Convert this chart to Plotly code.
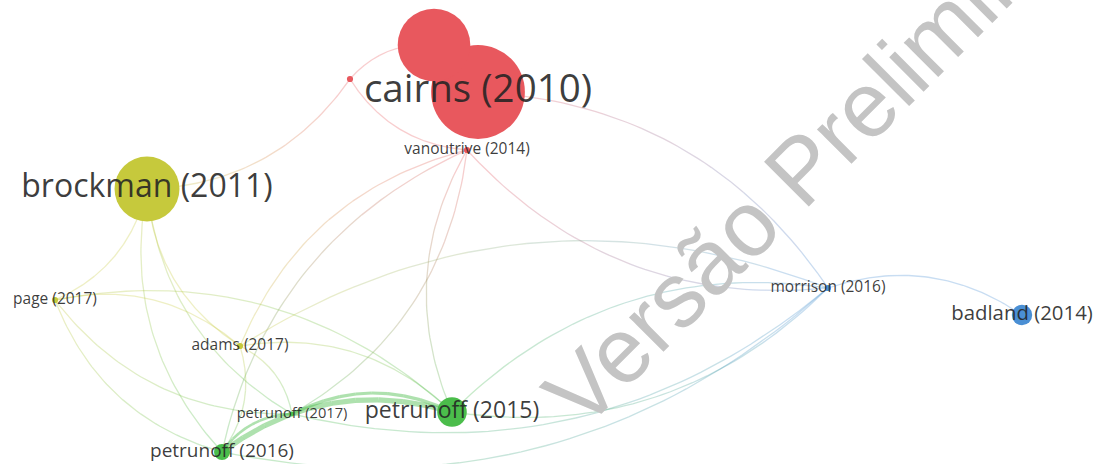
import numpy as np
import plotly.graph_objects as go

# ---------------- data ----------------
labels = ["cairns (2010)", "", "", "vanoutrive (2014)", "brockman (2011)",
          "page (2017)", "adams (2017)", "petrunoff (2017)", "petrunoff (2016)",
          "petrunoff (2015)", "morrison (2016)", "badland (2014)"]
# map coordinates (layout units)
map_x = [478, 434, 350, 467, 147, 55, 240, 292, 222, 452, 828, 1022]
map_y = [92, 45, 79, 150, 189, 300, 346, 414, 452, 412, 288, 315]
weight = [245, 144, 0.3, 0.3, 114, 0.3, 0.3, 0.05, 5, 21, 0.3, 9]
cluster = [0, 0, 0, 0, 2, 2, 2, 3, 3, 3, 1, 1]  # 0 red, 1 blue, 2 yellow, 3 green

# links: (source, target, strength)
links = [
    (1, 0, 1), (2, 1, 1), (3, 2, 1), (2, 4, 1),
    (0, 10, 1), (10, 3, 1), (10, 11, 1),
    (6, 3, 1), (8, 3, 1), (9, 3, 1), (3, 7, 1),
    (4, 5, 1), (6, 4, 1), (8, 4, 1), (7, 4, 1),
    (5, 6, 1), (5, 9, 1), (8, 5, 1), (7, 5, 1),
    (6, 9, 1), (6, 8, 1), (6, 7, 1),
    (8, 9, 4), (7, 9, 2.5), (8, 7, 2),
    (10, 8, 1), (9, 10, 1), (10, 7, 1), (6, 10, 1), (10, 9, 1),
]

cluster_rgb = {0: (232, 88, 94), 1: (74, 143, 212), 2: (198, 201, 60), 3: (75, 189, 75)}

# ---------------- figure ----------------
fig = go.Figure()

nseg = 10
t = np.linspace(0, 1, nseg * 5 + 1)
bend = 0.25
for s, e, w in links:
    p0 = np.array([map_x[s], map_y[s]], float)
    p1 = np.array([map_x[e], map_y[e]], float)
    d = p1 - p0
    c = (p0 + p1) / 2 + bend * np.array([d[1], -d[0]])
    pts = ((1 - t) ** 2)[:, None] * p0 + (2 * (1 - t) * t)[:, None] * c + (t ** 2)[:, None] * p1
    c0 = np.array(cluster_rgb[cluster[s]], float)
    c1 = np.array(cluster_rgb[cluster[e]], float)
    alpha = 0.3 if w <= 1 else 0.45
    for k in range(nseg):
        f = (k + 0.5) / nseg
        r, g, b = (c0 * (1 - f) + c1 * f).astype(int)
        seg = pts[k * 5:(k + 1) * 5 + 1]
        fig.add_trace(go.Scatter(x=seg[:, 0], y=seg[:, 1], mode="lines",
                                 line=dict(color=f"rgba({r},{g},{b},{alpha})", width=1.3 * w),
                                 hoverinfo="skip", showlegend=False))

diam = [3 + 5.8 * np.sqrt(v) for v in weight]
fig.add_trace(go.Scatter(
    x=map_x, y=map_y, mode="markers",
    marker=dict(size=diam, color=[f"rgb{cluster_rgb[c]}" for c in cluster],
                line=dict(width=0), opacity=1),
    hoverinfo="skip", showlegend=False))

font_sizes = [13.8 + 2.74 * v ** 0.4 for v in weight]
fig.add_trace(go.Scatter(
    x=map_x, y=map_y, mode="text", text=labels, textposition="middle center",
    textfont=dict(family="Open Sans", size=font_sizes, color="rgba(35,35,35,0.88)"),
    hoverinfo="skip", showlegend=False))

fig.add_annotation(x=817, y=153, xref="x", yref="y", text="Versão Preliminar",
                   showarrow=False, textangle=-45,
                   font=dict(family="Liberation Sans", size=92, color="#c4c4c4"))

fig.update_layout(
    width=1103, height=464, margin=dict(l=0, r=0, t=0, b=0),
    paper_bgcolor="white", plot_bgcolor="white",
    xaxis=dict(range=[0, 1103], visible=False, fixedrange=True),
    yaxis=dict(range=[464, 0], visible=False, fixedrange=True),
)

fig.write_html("out.html", config={"displayModeBar": False},
               post_script="document.body.style.margin='0px';document.body.style.overflow='hidden';")
